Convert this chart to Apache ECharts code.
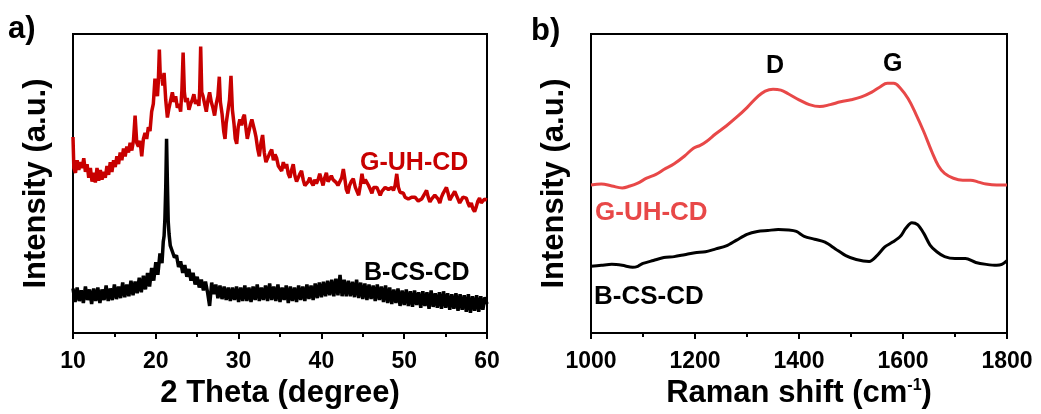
<!DOCTYPE html>
<html><head><meta charset="utf-8">
<script src="https://cdn.jsdelivr.net/npm/echarts@6/dist/echarts.min.js"></script>
<style>html,body{margin:0;padding:0;background:#fff}#c{width:1041px;height:414px}</style>
</head><body><div id="c"></div>
<script>
// ---------- Data ----------
const xrdTicks = [10, 20, 30, 40, 50, 60];
const ramanTicks = [1000, 1200, 1400, 1600, 1800];

// XRD, G-UH-CD  [2theta, intensity (a.u.)]
const xrdRed = [[10.0,202],[10.1,170],[10.3,165],[10.5,178],[10.7,168],[10.9,176],[11.1,170],[11.3,180],[11.5,166],[11.7,174],[11.9,160],[12.1,170],[12.3,156],[12.5,165],[12.7,155],[12.9,170],[13.1,157],[13.3,168],[13.5,158],[13.7,166],[13.9,160],[14.1,172],[14.3,163],[14.5,176],[14.7,166],[14.9,178],[15.1,171],[15.3,182],[15.5,174],[15.7,186],[15.9,178],[16.1,190],[16.3,182],[16.5,192],[16.7,186],[16.9,196],[17.1,188],[17.3,198],[17.5,224],[17.7,196],[17.9,192],[18.1,198],[18.3,182],[18.5,200],[18.7,206],[18.9,200],[19.1,212],[19.3,208],[19.5,228],[19.7,236],[19.9,262],[20.05,252],[20.2,244],[20.3,258],[20.43,292],[20.55,262],[20.7,266],[20.85,255],[21.0,268],[21.2,240],[21.4,222],[21.6,232],[21.8,240],[22.0,248],[22.2,238],[22.4,244],[22.6,232],[22.8,236],[23.0,228],[23.15,250],[23.3,289],[23.45,248],[23.6,238],[23.8,242],[24.0,230],[24.2,236],[24.4,240],[24.6,246],[24.8,236],[25.0,240],[25.2,234],[25.3,250],[25.42,295],[25.55,248],[25.7,244],[25.9,236],[26.1,228],[26.3,240],[26.5,248],[26.7,238],[26.9,232],[27.1,224],[27.3,236],[27.5,244],[27.67,264],[27.8,238],[28.0,226],[28.2,208],[28.36,200],[28.5,216],[28.7,228],[28.9,240],[29.08,265],[29.25,230],[29.45,215],[29.6,200],[29.77,195],[29.95,212],[30.15,220],[30.35,214],[30.55,222],[30.7,225],[30.9,210],[31.05,200],[31.2,206],[31.4,214],[31.6,220],[31.78,220],[31.95,208],[32.1,202],[32.3,190],[32.5,182],[32.7,196],[32.9,204],[33.1,186],[33.3,176],[33.4,174],[33.6,182],[33.8,186],[34.0,189],[34.2,178],[34.4,184],[34.6,180],[34.8,172],[35.0,170],[35.2,167],[35.4,176],[35.6,170],[35.8,174],[36.0,164],[36.2,160],[36.4,168],[36.6,174],[36.8,162],[37.0,156],[37.2,154],[37.4,164],[37.6,167],[37.8,158],[38.0,152],[38.2,150],[38.4,156],[38.6,160],[38.8,155],[39.0,152],[39.2,158],[39.4,154],[39.6,158],[39.8,164],[40.0,158],[40.2,152],[40.4,160],[40.6,165],[40.8,156],[41.0,154],[41.2,162],[41.4,158],[41.6,160],[41.8,155],[42.0,152],[42.2,150],[42.45,160],[42.65,169],[42.85,158],[43.0,148],[43.2,144],[43.4,152],[43.6,156],[43.85,159],[44.1,150],[44.3,146],[44.5,142],[44.7,152],[44.9,164],[45.1,154],[45.3,158],[45.5,160],[45.7,152],[45.9,148],[46.1,144],[46.3,150],[46.5,152],[46.7,150],[46.9,146],[47.1,142],[47.3,146],[47.5,148],[47.7,150],[47.9,152],[48.1,148],[48.3,146],[48.5,150],[48.7,147],[48.9,152],[49.1,164],[49.3,150],[49.5,145],[49.7,146],[49.9,144],[50.1,140],[50.3,142],[50.5,138],[50.7,137],[50.9,140],[51.1,142],[51.3,140],[51.5,142],[51.7,136],[51.9,134],[52.1,138],[52.3,140],[52.5,144],[52.7,147],[52.9,140],[53.1,135],[53.3,138],[53.5,140],[53.7,142],[53.9,142],[54.1,138],[54.3,134],[54.5,140],[54.7,144],[54.9,146],[55.1,150],[55.3,144],[55.5,137],[55.7,140],[55.9,142],[56.1,146],[56.3,144],[56.5,138],[56.7,134],[56.9,136],[57.1,140],[57.3,139],[57.5,139],[57.7,134],[57.9,130],[58.1,134],[58.3,128],[58.5,125],[58.7,130],[58.9,136],[59.1,139],[59.3,134],[59.5,132],[59.7,138],[60.0,137]];

// XRD, B-CS-CD  [2theta, intensity (a.u.)]
const xrdBlack = [[10.00,46],[10.25,32],[10.50,47],[10.75,33],[11.00,44],[11.25,31],[11.50,48],[11.75,34],[12.00,45],[12.25,30],[12.50,46],[12.75,33],[13.00,47],[13.25,31],[13.50,45],[13.75,34],[14.00,49],[14.25,33],[14.50,46],[14.75,34],[15.00,50],[15.25,35],[15.50,48],[15.75,36],[16.00,52],[16.25,37],[16.50,50],[16.75,38],[17.00,54],[17.25,39],[17.50,53],[17.75,41],[18.00,57],[18.25,42],[18.50,59],[18.75,45],[19.00,62],[19.25,48],[19.50,67],[19.75,54],[20.00,73],[20.25,60],[20.50,82],[20.75,72],[20.90,94],[21.00,100],[21.10,118],[21.20,150],[21.30,200],[21.40,155],[21.50,115],[21.60,102],[21.75,90],[22.00,84],[22.25,78],[22.50,80],[22.75,68],[23.00,74],[23.25,62],[23.50,70],[23.75,58],[24.00,66],[24.25,54],[24.50,62],[24.75,50],[25.00,58],[25.25,47],[25.50,55],[25.75,44],[26.00,53],[26.25,42],[26.50,28],[26.75,52],[27.00,40],[27.25,50],[27.50,36],[27.75,49],[28.00,35],[28.25,48],[28.50,34],[28.75,47],[29.00,33],[29.25,47],[29.50,34],[29.75,48],[30.00,32],[30.25,47],[30.50,33],[30.75,49],[31.00,33],[31.25,47],[31.50,32],[31.75,48],[32.00,34],[32.25,50],[32.50,33],[32.75,47],[33.00,34],[33.25,49],[33.50,33],[33.75,51],[34.00,34],[34.25,48],[34.50,33],[34.75,50],[35.00,32],[35.25,47],[35.50,34],[35.75,49],[36.00,31],[36.25,48],[36.50,33],[36.75,47],[37.00,32],[37.25,49],[37.50,34],[37.75,48],[38.00,33],[38.25,50],[38.50,35],[38.75,49],[39.00,34],[39.25,51],[39.50,36],[39.75,52],[40.00,37],[40.25,53],[40.50,38],[40.75,54],[41.00,39],[41.25,55],[41.50,38],[41.75,56],[42.00,39],[42.25,60],[42.50,38],[42.75,55],[43.00,38],[43.25,54],[43.50,38],[43.75,53],[44.00,37],[44.25,55],[44.50,36],[44.75,52],[45.00,35],[45.25,51],[45.50,34],[45.75,50],[46.00,35],[46.25,49],[46.50,33],[46.75,50],[47.00,34],[47.25,48],[47.50,32],[47.75,49],[48.00,31],[48.25,47],[48.50,30],[48.75,45],[49.00,31],[49.25,46],[49.50,28],[49.75,44],[50.00,29],[50.25,45],[50.50,28],[50.75,43],[51.00,27],[51.25,44],[51.50,29],[51.75,42],[52.00,26],[52.25,43],[52.50,28],[52.75,42],[53.00,25],[53.25,44],[53.50,27],[53.75,41],[54.00,26],[54.25,42],[54.50,25],[54.75,43],[55.00,26],[55.25,41],[55.50,24],[55.75,40],[56.00,25],[56.25,41],[56.50,23],[56.75,40],[57.00,24],[57.25,39],[57.50,22],[57.75,40],[58.00,21],[58.25,38],[58.50,23],[58.75,39],[59.00,22],[59.25,38],[59.50,24],[59.75,37],[60.00,30]];

// Raman, G-UH-CD  [Raman shift (cm-1), intensity (a.u.)]
const ramanRed = [[1000,153],[1020,154],[1040,152],[1060,150],[1075,152],[1090,155],[1107,160],[1125,164],[1140,169],[1160,175],[1180,183],[1197,191],[1210,194],[1222,198],[1240,206],[1260,214],[1280,223],[1300,233],[1320,244],[1335,250],[1350,252],[1365,251],[1380,247],[1400,241],[1420,236],[1440,234],[1460,236],[1480,239],[1500,241],[1520,244],[1540,249],[1555,254],[1570,258],[1582,258],[1595,253],[1610,242],[1625,226],[1640,208],[1655,188],[1668,173],[1680,165],[1697,160],[1715,158],[1730,158],[1745,156],[1760,154],[1780,153],[1800,153]];

// Raman, B-CS-CD
const ramanBlack = [[1000,69],[1020,70],[1040,71],[1060,70],[1080,68],[1090,69],[1100,72],[1120,75],[1140,78],[1160,79],[1180,81],[1200,83],[1220,84],[1240,87],[1260,90],[1280,96],[1300,102],[1320,105],[1340,106],[1360,107],[1380,106.5],[1395,105],[1410,100],[1430,97],[1450,94],[1470,87],[1490,80],[1510,76],[1535,74],[1550,80],[1565,89],[1580,94],[1595,100],[1605,108],[1617,114],[1628,112],[1640,103],[1652,91],[1665,84],[1680,79],[1700,77],[1720,77],[1740,73],[1760,71],[1780,70],[1790,71],[1800,75]];

// ---------- Chart ----------
const FONT = 'Liberation Sans, Arial, sans-serif';
const chart = echarts.init(document.getElementById('c'), null, {renderer: 'canvas'});

function xAxisCfg(gi, min, max, interval, name, ticks) {
  return {
    gridIndex: gi, type: 'value', min, max, interval,
    name, nameLocation: 'middle', nameGap: 39,
    nameTextStyle: {fontFamily: FONT, fontWeight: 'bold', fontSize: 31, color: '#000',
      rich: {a: {fontFamily: FONT, fontWeight: 'bold', fontSize: 31, color: '#000'},
             s: {fontFamily: FONT, fontWeight: 'bold', fontSize: 16, color: '#000', verticalAlign: 'top', lineHeight: 12}}},
    axisLine: {show: true, lineStyle: {color: '#000', width: 2}},
    axisTick: {show: true, inside: false, length: 6, lineStyle: {color: '#000', width: 2}},
    minorTick: {show: true, splitNumber: 2, length: 4, lineStyle: {color: '#000', width: 2}},
    splitLine: {show: false},
    axisLabel: {show: true, margin: 17, fontFamily: FONT, fontWeight: 'bold', fontSize: 23, color: '#000',
      formatter: v => ticks.includes(v) ? String(v) : ''}
  };
}
function yAxisCfg(gi, max) {
  return {
    gridIndex: gi, type: 'value', min: 0, max,
    name: 'Intensity (a.u.)', nameLocation: 'middle', nameGap: 21,
    nameTextStyle: {fontFamily: FONT, fontWeight: 'bold', fontSize: 31, color: '#000'},
    axisLine: {show: true, lineStyle: {color: '#000', width: 2}},
    axisTick: {show: false}, axisLabel: {show: false}, splitLine: {show: false}
  };
}

const option = {
  backgroundColor: '#fff',
  animation: false,
  grid: [
    {left: 73, top: 34, width: 414, height: 308, show: true, borderColor: '#000', borderWidth: 2, backgroundColor: 'transparent'},
    {left: 591, top: 34, width: 416, height: 309, show: true, borderColor: '#000', borderWidth: 2, backgroundColor: 'transparent'}
  ],
  xAxis: [
    xAxisCfg(0, 10, 60, 10, '2 Theta (degree)', xrdTicks),
    xAxisCfg(1, 1000, 1800, 200, '{a|Raman shift (cm}{s|-1}{a|)}', ramanTicks)
  ],
  yAxis: [yAxisCfg(0, 308), yAxisCfg(1, 309)],
  series: [
    {type: 'line', xAxisIndex: 0, yAxisIndex: 0, data: xrdBlack, showSymbol: false, symbol: 'none',
     lineStyle: {color: '#000', width: 3.5}, z: 2},
    {type: 'line', xAxisIndex: 0, yAxisIndex: 0, data: xrdRed, showSymbol: false, symbol: 'none',
     lineStyle: {color: '#c80000', width: 3.5}, z: 3},
    {type: 'line', xAxisIndex: 1, yAxisIndex: 1, data: ramanRed, showSymbol: false, symbol: 'none', smooth: 0.4,
     lineStyle: {color: '#e84848', width: 3}},
    {type: 'line', xAxisIndex: 1, yAxisIndex: 1, data: ramanBlack, showSymbol: false, symbol: 'none', smooth: 0.3,
     lineStyle: {color: '#000', width: 3}}
  ],
  graphic: [
    {type: 'text', left: 8, top: 14, style: {text: 'a)', font: 'bold 31px ' + FONT, fill: '#000'}},
    {type: 'text', left: 531, top: 16, style: {text: 'b)', font: 'bold 31px ' + FONT, fill: '#000'}},
    {type: 'text', left: 360, top: 151, style: {text: 'G-UH-CD', font: 'bold 25px ' + FONT, fill: '#c80000'}},
    {type: 'text', left: 364, top: 261, style: {text: 'B-CS-CD', font: 'bold 25px ' + FONT, fill: '#000'}},
    {type: 'text', left: 595, top: 200, style: {text: 'G-UH-CD', font: 'bold 26px ' + FONT, fill: '#e84848'}},
    {type: 'text', left: 594, top: 284, style: {text: 'B-CS-CD', font: 'bold 26px ' + FONT, fill: '#000'}},
    {type: 'text', left: 766, top: 54, style: {text: 'D', font: 'bold 25px ' + FONT, fill: '#000'}},
    {type: 'text', left: 883, top: 52, style: {text: 'G', font: 'bold 25px ' + FONT, fill: '#000'}}
  ]
};
chart.setOption(option);
</script>
</body></html>
